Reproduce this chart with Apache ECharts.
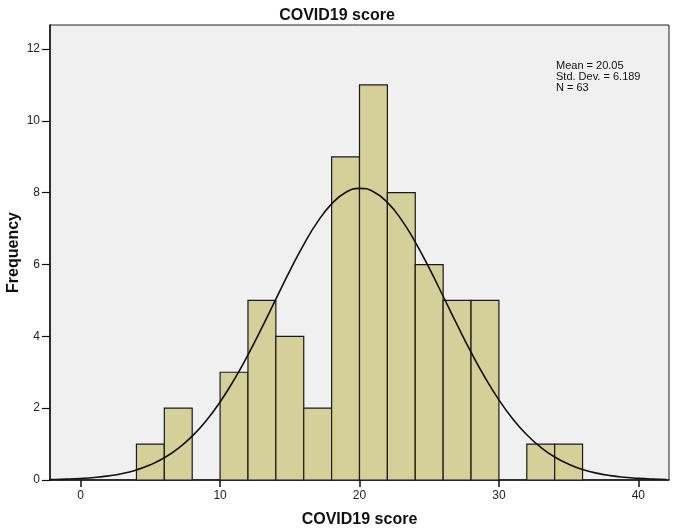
<!DOCTYPE html>
<html>
<head>
<meta charset="utf-8">
<script src="https://cdn.jsdelivr.net/npm/echarts@6/dist/echarts.min.js"></script>
<style>
html,body{margin:0;padding:0;background:#fff;}
#chart{width:674px;height:530px;}
</style>
</head>
<body>
<div id="chart"></div>
<script>
// Histogram bins (width 2)
var binStarts = [4, 6, 8, 10, 12, 14, 16, 18, 20, 22, 24, 26, 28, 30, 32, 34];
var binWidth = 2;
var counts    = [1, 2, 0, 3, 5, 4, 2, 9, 11, 8, 6, 5, 5, 0, 1, 1];

// Normal curve (Mean = 20.05, SD = 6.189, N = 63)
var curveX = [-3,-2,-1,0,1,2,3,4,5,6,7,8,9,10,11,12,13,14,15,16,17,18,19,20,21,22,23,24,25,26,27,28,29,30,31,32,33,34,35,36,37,38,39,40,41,42];
var curveY = [0.008,0.014,0.025,0.043,0.071,0.116,0.183,0.281,0.422,0.618,0.880,1.221,1.650,2.174,2.788,3.486,4.245,5.037,5.823,6.557,7.194,7.688,8.006,8.122,8.027,7.729,7.250,6.625,5.899,5.117,4.324,3.559,2.855,2.230,1.698,1.259,0.910,0.640,0.439,0.293,0.191,0.121,0.075,0.045,0.026,0.015];

var xTicks = [0, 10, 20, 30, 40];
var yTicks = [0, 2, 4, 6, 8, 10, 12];
var statsLines = ['Mean = 20.05', 'Std. Dev. = 6.189', 'N = 63'];

var barData = binStarts.map(function (s, i) { return [s, s + binWidth, counts[i]]; })
  .filter(function (d) { return d[2] > 0; });
var lineData = curveX.map(function (x, i) { return [x, curveY[i]]; });

var chart = echarts.init(document.getElementById('chart'), null, {renderer: 'canvas'});
var font = 'Liberation Sans, Arial, sans-serif';
chart.setOption({
  animation: false,
  backgroundColor: '#ffffff',
  title: {
    text: 'COVID19 score', left: 'center', top: 3,
    textStyle: {fontFamily: font, fontSize: 16, fontWeight: 'bold', color: '#111'}
  },
  grid: {
    left: 50, right: 5, top: 25, bottom: 50,
    outerBoundsMode: 'none', containLabel: false,
    show: true, backgroundColor: '#f0f0f0', borderColor: '#222', borderWidth: 1
  },
  xAxis: {
    type: 'value', min: -2.2, max: 42.2,
    name: 'COVID19 score', nameLocation: 'middle', nameGap: 32, nameMoveOverlap: false,
    nameTextStyle: {fontFamily: font, fontSize: 16, fontWeight: 'bold', color: '#111'},
    axisLine: {show: true, onZero: false, lineStyle: {color: '#111', width: 1.5}},
    axisTick: {show: true, inside: false, length: 7, customValues: xTicks, lineStyle: {color: '#111', width: 1.5}},
    axisLabel: {show: true, customValues: xTicks, margin: 10, fontFamily: font, fontSize: 12, color: '#222'},
    splitLine: {show: false}
  },
  yAxis: {
    type: 'value', min: 0, max: 12.67,
    name: 'Frequency', nameLocation: 'middle', nameGap: 28, nameMoveOverlap: false,
    nameTextStyle: {fontFamily: font, fontSize: 16, fontWeight: 'bold', color: '#111'},
    axisLine: {show: true, onZero: false, lineStyle: {color: '#111', width: 1.5}},
    axisTick: {show: true, inside: false, length: 8, customValues: yTicks, lineStyle: {color: '#111', width: 1.2}},
    axisLabel: {customValues: yTicks, margin: 10, fontFamily: font, fontSize: 12, color: '#222'},
    splitLine: {show: false}
  },
  graphic: [{
    type: 'text', left: 556, top: 60,
    style: {text: statsLines.join('\n'), fontFamily: font, fontSize: 11, lineHeight: 11, fill: '#111'}
  }],
  series: [{
    type: 'custom',
    renderItem: function (params, api) {
      var p0 = api.coord([api.value(0), 0]);
      var p1 = api.coord([api.value(1), api.value(2)]);
      return {
        type: 'rect',
        shape: {x: p0[0], y: p1[1], width: p1[0] - p0[0], height: p0[1] - p1[1]},
        style: {fill: '#d5cf9a', stroke: '#1a1a1a', lineWidth: 1.2}
      };
    },
    encode: {x: [0, 1], y: 2},
    data: barData,
    z: 2
  }, {
    type: 'line',
    data: lineData,
    smooth: true,
    showSymbol: false,
    lineStyle: {color: '#111', width: 1.6},
    z: 3
  }]
});
</script>
</body>
</html>
